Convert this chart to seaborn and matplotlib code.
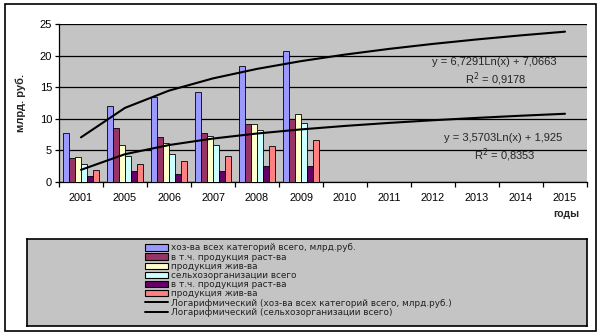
import numpy as np
import pandas as pd
import matplotlib
matplotlib.use("Agg")
import matplotlib.pyplot as plt
import seaborn as sns
from matplotlib.patches import Patch
from matplotlib.lines import Line2D

years = ["2001", "2005", "2006", "2007", "2008", "2009",
         "2010", "2011", "2012", "2013", "2014", "2015"]
data_years = ["2001", "2005", "2006", "2007", "2008", "2009"]

series_names = [
    "хоз-ва всех категорий всего, млрд.руб.",
    "в т.ч. продукция раст-ва",
    "продукция жив-ва",
    "сельхозорганизации всего",
    "в т.ч. продукция раст-ва ",
    "продукция жив-ва ",
]
hoz_total = [7.7, 12.1, 13.4, 14.3, 18.4, 20.7]
hoz_plant = [3.8, 8.5, 7.1, 7.8, 9.2, 10.0]
hoz_animal = [3.9, 5.8, 6.2, 7.2, 9.2, 10.7]
org_total = [2.8, 4.1, 4.5, 5.8, 8.2, 9.4]
org_plant = [1.0, 1.7, 1.3, 1.7, 2.6, 2.5]
org_animal = [1.9, 2.8, 3.3, 4.1, 5.7, 6.7]
series_values = [hoz_total, hoz_plant, hoz_animal, org_total, org_plant, org_animal]
colors = ["#9999FF", "#993366", "#FFFFCC", "#CCFFFF", "#660066", "#FF8080"]

trend_names = ["Логарифмический (хоз-ва всех категорий всего, млрд.руб.)",
               "Логарифмический (сельхозорганизации всего)"]
trend1_coef = (6.7291, 7.0663)
trend2_coef = (3.5703, 1.925)
eq1 = ["y = 6,7291Ln(x) + 7,0663", "R$^2$ = 0,9178"]
eq2 = ["y = 3,5703Ln(x) + 1,925", "R$^2$ = 0,8353"]

rows = []
for name, vals in zip(series_names, series_values):
    for y, v in zip(data_years, vals):
        rows.append({"year": y, "series": name, "value": v})
df = pd.DataFrame(rows)

sns.set_theme(style="white")
plt.rcParams["font.family"] = ["Liberation Sans", "DejaVu Sans"]

W, H = 602, 336
fig = plt.figure(figsize=(W / 100, H / 100), dpi=100)
fig.patch.set_facecolor("white")

def fx(px):
    return px / W

def fy(py):
    return 1 - py / H

# outer frame
fig.add_artist(plt.Rectangle((fx(5), fy(331)), fx(596) - fx(5), fy(4) - fy(331),
                             transform=fig.transFigure, fill=False,
                             edgecolor="black", lw=1.2))

ax = fig.add_axes([fx(59), fy(182), fx(587) - fx(59), fy(24) - fy(182)])
ax.set_facecolor("#c4c4c4")

sns.barplot(data=df, x="year", y="value", hue="series", order=years,
            hue_order=series_names, palette=colors, width=0.8,
            edgecolor="black", linewidth=0.6, saturation=1, ax=ax,
            legend=False, zorder=3)

# trend lines
xi = np.arange(1, len(years) + 1)
pos = np.arange(len(years))
t1 = trend1_coef[0] * np.log(xi) + trend1_coef[1]
t2 = trend2_coef[0] * np.log(xi) + trend2_coef[1]
ax.plot(pos, t1, color="black", lw=1.5, zorder=4)
ax.plot(pos, t2, color="black", lw=1.5, zorder=4)

ax.set_ylim(0, 25)
ax.set_xlim(-0.5, len(years) - 0.5)
ax.set_yticks([0, 5, 10, 15, 20, 25])
ax.yaxis.grid(True, color="black", lw=0.9)
ax.set_axisbelow(True)
for s in ["top", "right"]:
    ax.spines[s].set_visible(False)
ax.spines["left"].set_color("black")
ax.spines["bottom"].set_color("black")
ax.spines["left"].set_linewidth(0.9)
ax.spines["bottom"].set_linewidth(0.9)

ax.tick_params(axis="y", which="major", left=True, length=3, width=0.9,
               color="black", pad=2, labelsize=8, labelcolor="black")
ax.tick_params(axis="x", which="major", bottom=False, length=0, pad=8,
               labelsize=7.8, labelcolor="black")
ax.set_xticks(np.arange(-0.5, len(years), 1.0), minor=True)
ax.tick_params(axis="x", which="minor", bottom=True, length=3.5, width=0.9,
               color="black")
ax.set_xlabel("")
ax.set_ylabel("млрд. руб.", fontsize=8, fontweight="bold", labelpad=10)

fig.text(fx(566), fy(214), "годы", fontsize=7.5, fontweight="bold",
         ha="center", va="center")

# equations
fig.text(fx(494), fy(62), eq1[0], fontsize=8, ha="center", va="center")
fig.text(fx(496), fy(79), eq1[1], fontsize=8, ha="center", va="center")
fig.text(fx(503), fy(138), eq2[0], fontsize=8, ha="center", va="center")
fig.text(fx(505), fy(155), eq2[1], fontsize=8, ha="center", va="center")

# legend area
lax = fig.add_axes([fx(27), fy(326), fx(587) - fx(27), fy(239) - fy(326)])
lax.set_facecolor("#c4c4c4")
lax.set_xticks([])
lax.set_yticks([])
for s in lax.spines.values():
    s.set_color("black")
    s.set_linewidth(1.2)

handles = [Patch(facecolor=c, edgecolor="black", lw=0.8) for c in colors]
handles += [Line2D([0], [0], color="black", lw=1.4) for _ in trend_names]
labels = [n.strip() for n in series_names] + trend_names
leg = lax.legend(handles, labels, loc="upper left",
                 bbox_to_anchor=((145 - 27) / 560 - 0.012, 1.02),
                 frameon=False, labelspacing=0.02,
                 handlelength=2.6, handleheight=0.72, handletextpad=0.35,
                 borderpad=0.2, prop={"family": ["DejaVu Sans"], "size": 6.4})
for t in leg.get_texts():
    t.set_color("#222222")

fig.savefig("out.png", dpi=100, facecolor="white")
